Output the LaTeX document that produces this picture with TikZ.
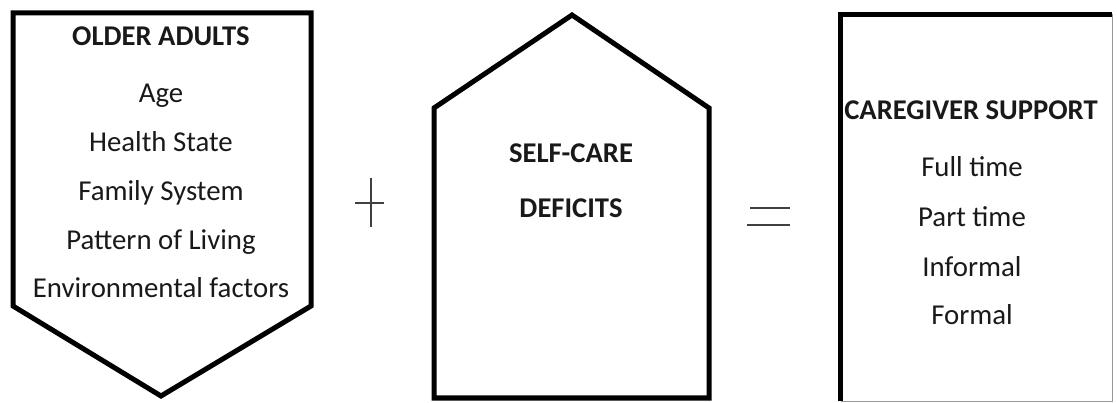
\documentclass[tikz,border=0pt]{standalone}
\usepackage{fontspec}
\setmainfont{Carlito}
\begin{document}
\begin{tikzpicture}[x=1pt,y=-1pt,
  shapeline/.style={line width=5pt, line join=miter, draw=black},
  txt/.style={anchor=base, inner sep=0pt, font=\fontsize{28.8}{32}\selectfont, text=black!90},
  head/.style={txt, font=\fontsize{28.6}{32}\selectfont\bfseries},
  sign/.style={line width=1.6pt, draw=black!75}]
\useasboundingbox (0,0) rectangle (1117,403);
% left shape (pentagon pointing down)
\coordinate (l1) at (13,13);
\coordinate (l2) at (311,13);
\coordinate (l3) at (311,306);
\coordinate (l4) at (161,396);
\coordinate (l5) at (13,306);
\draw[shapeline] (l1) -- (l2) -- (l3) -- (l4) -- (l5) -- cycle;
% middle shape (house)
\coordinate (m1) at (434,108);
\coordinate (m2) at (572,15);
\coordinate (m3) at (709,108);
\coordinate (m4) at (709,398);
\coordinate (m5) at (434,398);
\draw[shapeline] (m1) -- (m2) -- (m3) -- (m4) -- (m5) -- cycle;
% right box (cropped)
\coordinate (r1) at (840.5,401);
\coordinate (r2) at (840.5,14.5);
\coordinate (r3) at (1112,14.5);
\coordinate (r4) at (1112,401);
\draw[black!40, line width=1pt] (r3) -- (r4) -- (r1);
\draw[shapeline] (r1) -- (r2) -- (r3);
% texts left
\node[head] (oa) at (161,46) {OLDER ADULTS};
\node[txt] (age) at (161,103) {Age};
\node[txt] (hs) at (161,152) {Health State};
\node[txt] (fs) at (161,201) {Family System};
\node[txt] (pl) at (161,250) {Pattern of Living};
\node[txt] (ef) at (161,298) {Environmental factors};
% middle
\node[head] (sc) at (571,163) {SELF-CARE};
\node[head] (df) at (571,218) {DEFICITS};
% right
\node[head] (cs) at (971,120) {CAREGIVER SUPPORT};
\node[txt] (ft) at (972,177) {Full time};
\node[txt] (pt) at (972,227) {Part time};
\node[txt] (inf) at (972,277) {Informal};
\node[txt] (fo) at (972,325) {Formal};
% plus sign
\coordinate (pa) at (371,178);
\coordinate (pb) at (371,227);
\coordinate (pc) at (355,203);
\coordinate (pd) at (384,203);
\draw[sign] (pa) -- (pb);
\draw[sign] (pc) -- (pd);
% equals sign
\coordinate (ea) at (750,208);
\coordinate (eb) at (790,208);
\coordinate (ec) at (747,225);
\coordinate (ed) at (790,225);
\draw[sign] (ea) -- (eb);
\draw[sign] (ec) -- (ed);
\end{tikzpicture}
\end{document}
